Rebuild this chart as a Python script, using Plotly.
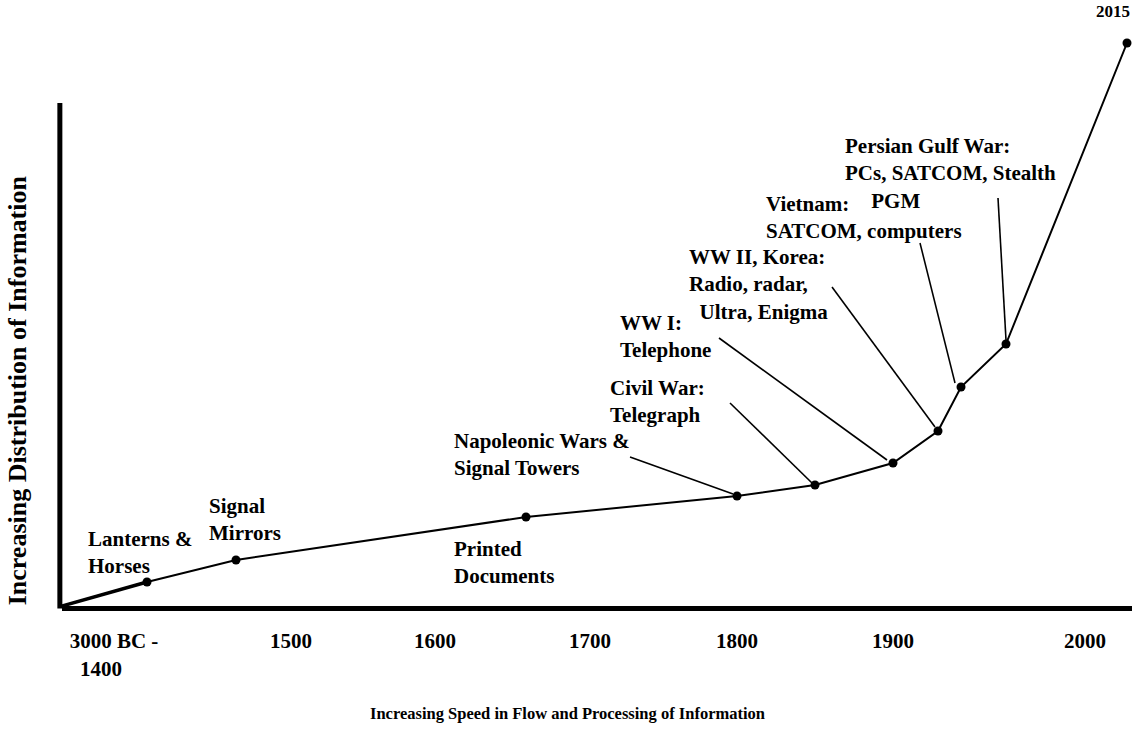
import plotly.graph_objects as go

# ---- data (timeline position, information level) ----
events = ["origin", "Lanterns & Horses", "Signal Mirrors", "Printed Documents",
          "Napoleonic Wars", "Civil War", "WW I", "WW II / Korea", "Vietnam",
          "Persian Gulf War", "2015"]
x_pos = [0, 85, 174, 464, 675, 753, 831, 876, 899, 944, 1065]
info_level = [0, 24, 46, 89, 110, 121, 143, 175, 219, 262, 563]

tick_pos = [52, 229, 373, 528, 675, 831, 1023]
tick_labels = ["3000 BC -<br>1400" + "\u00a0" * 5, "1500", "1600", "1700", "1800", "1900", "2000"]

label_texts = [
    "Lanterns &<br>Horses",
    "Signal<br>Mirrors",
    "Printed<br>Documents",
    "Napoleonic Wars &<br>Signal Towers",
    "Civil War:<br>Telegraph",
    "WW I:<br>Telephone",
    "WW II, Korea:<br>Radio, radar,<br>\u00a0\u00a0Ultra, Enigma",
    "Vietnam:<br>SATCOM, computers",
    "Persian Gulf War:<br>PCs, SATCOM, Stealth<br>\u00a0\u00a0\u00a0\u00a0\u00a0PGM",
]
label_x = [24, 145, 390, 390, 546, 556, 625, 702, 781]
label_y = [81, 114, 71, 179, 232, 297, 363, 416, 474]

leader_x0 = [568, 668, 657, 770, 858, 936]
leader_y0 = [149, 203, 268, 319, 363, 408]
leader_x1 = [671, 750, 825, 873, 893, 944]
leader_y1 = [112, 123, 146, 179, 223, 266]

FONT = "Liberation Serif"

fig = go.Figure()

# main curve
fig.add_trace(go.Scatter(x=x_pos, y=info_level, mode="lines",
                         line=dict(color="black", width=2), hoverinfo="skip"))
fig.add_trace(go.Scatter(x=x_pos[:2], y=info_level[:2], mode="lines",
                         line=dict(color="black", width=3.5), hoverinfo="skip"))
fig.add_trace(go.Scatter(x=x_pos[1:], y=info_level[1:], mode="markers",
                         marker=dict(color="black", size=9), cliponaxis=False,
                         hovertext=events[1:], hoverinfo="text"))

# leader lines
for a, b, c, d in zip(leader_x0, leader_y0, leader_x1, leader_y1):
    fig.add_trace(go.Scatter(x=[a, c], y=[b, d], mode="lines",
                             line=dict(color="black", width=1.6), hoverinfo="skip"))

# event labels
for t, x, y in zip(label_texts, label_x, label_y):
    fig.add_annotation(x=x, y=y, text=t, showarrow=False, xanchor="left", yanchor="top",
                       align="left", font=dict(family=FONT, size=21, color="black", weight="bold"))

fig.add_annotation(x=x_pos[-1] + 5, y=info_level[-1] + 20, text="2015", showarrow=False,
                   xanchor="right", yanchor="bottom",
                   font=dict(family=FONT, size=17, color="black", weight="bold"))

# axis titles
fig.add_annotation(xref="paper", yref="paper", x=-0.042, y=0.356, text="Increasing Distribution of Information",
                   textangle=-90, showarrow=False, xanchor="center", yanchor="middle",
                   font=dict(family=FONT, size=26, color="black", weight="bold"))
fig.add_annotation(xref="paper", yref="paper", x=0.472, y=-0.177,
                   text="Increasing Speed in Flow and Processing of Information", showarrow=False,
                   xanchor="center", yanchor="middle",
                   font=dict(family=FONT, size=16.5, color="black", weight="bold"))

# vertical axis line (shorter than plot height)
fig.add_shape(type="line", xref="paper", yref="paper", x0=-0.002, x1=-0.002, y0=-0.004, y1=503 / 606,
              line=dict(color="black", width=5))

fig.update_layout(
    width=1135, height=751,
    margin=dict(l=62, r=3, t=0, b=145),
    plot_bgcolor="white", paper_bgcolor="white",
    showlegend=False,
    xaxis=dict(range=[0, 1070], showgrid=False, zeroline=False,
               showline=True, linecolor="black", linewidth=5,
               tickmode="array", tickvals=tick_pos, ticktext=tick_labels,
               ticks="", ticklabelstandoff=12,
               tickfont=dict(family=FONT, size=21, color="black", weight="bold")),
    yaxis=dict(range=[0, 606], showgrid=False, zeroline=False, showline=False,
               showticklabels=False, ticks=""),
)

fig.write_html("out.html", config={"displayModeBar": False},
               post_script="document.body.style.margin='0';document.body.style.padding='0';")
